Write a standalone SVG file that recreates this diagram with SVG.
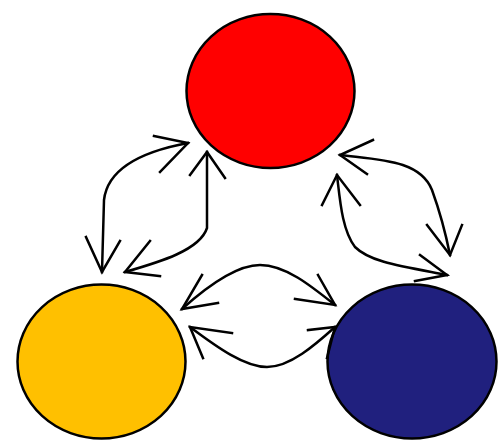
<svg xmlns="http://www.w3.org/2000/svg" width="500" height="448" viewBox="0 0 500 448">
<style>
.node{stroke:#000;stroke-width:2.5}
.c{fill:none;stroke:#000;stroke-width:2.5;stroke-linecap:square;stroke-linejoin:miter}
</style>
<rect width="500" height="448" fill="#fff"/>
<g id="red"><ellipse class="node" cx="270.5" cy="91" rx="84" ry="77" fill="#ff0000"/></g>
<g id="yellow"><ellipse class="node" cx="101.5" cy="361.5" rx="84" ry="77" fill="#ffc000"/></g>
<g id="navy"><ellipse class="node" cx="412" cy="361.5" rx="84.5" ry="77" fill="#20207e"/></g>
<g id="connectors">
<path class="c" d="M188,143 C150,150 108,165 104,200 L102,272"/>
<path class="c" d="M154,136 L188,143 L160,172"/>
<path class="c" d="M86,237 L102,272 L120,241"/>
<path class="c" d="M207,152 L207,228 C200,250 160,262 125,272"/>
<path class="c" d="M190,175 L207,152 L225,178"/>
<path class="c" d="M150,241 L125,272 L160,276"/>
<path class="c" d="M340,155 C380,160 420,160 432,190 C440,212 446,235 450,255"/>
<path class="c" d="M373,140 L340,155 L367,174"/>
<path class="c" d="M427,225 L450,255 L462,225"/>
<path class="c" d="M337,175 C340,200 342,230 355,247 C370,262 400,266 447,275"/>
<path class="c" d="M322,205 L337,175 L360,205"/>
<path class="c" d="M420,255 L447,275 L415,281"/>
<path class="c" d="M182,309 C212,282 238,265 260,265 C285,265 310,285 335,305"/>
<path class="c" d="M202,275 L182,309 L218,303"/>
<path class="c" d="M318,275 L335,305 L295,299"/>
<path class="c" d="M190,327 C218,348 245,367 267,367 C290,367 315,345 335,327"/>
<path class="c" d="M232,333 L190,327 L203,358"/>
<path class="c" d="M308,330 L335,327 L327,358"/>
</g>
</svg>
